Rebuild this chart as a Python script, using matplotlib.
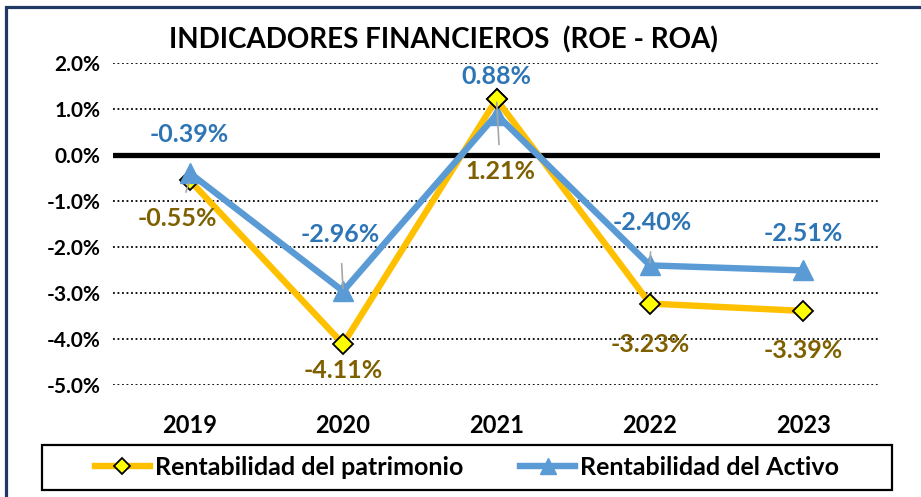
import matplotlib
matplotlib.use("Agg")
import matplotlib.pyplot as plt
from matplotlib.patches import Rectangle
from matplotlib.ticker import FuncFormatter

plt.rcParams['font.family'] = ['Lato', 'DejaVu Sans']
plt.rcParams['font.weight'] = 'bold'

# =========================
# DATA
# =========================
years = ["2019", "2020", "2021", "2022", "2023"]
roe = [-0.55, -4.11, 1.21, -3.23, -3.39]   # Rentabilidad del patrimonio (%)
roa = [-0.39, -2.96, 0.88, -2.40, -2.51]   # Rentabilidad del Activo (%)

# label offsets in pixels (dx, dy) and whether a leader line is drawn
roe_offsets = [(-12, -38), (0, -26), (4, -72), (0, -41), (0, -40)]
roe_leader = [True, False, True, False, False]
roa_offsets = [(0, 38), (-3, 57), (0, 38), (2, 43), (0, 37)]
roa_leader = [False, True, False, True, False]

yellow = "#FFC000"
blue = "#5B9BD5"
roe_txt = "#7F6000"
roa_txt = "#2E75B6"

fig = plt.figure(figsize=(9.21, 4.97), dpi=100)
ax = fig.add_axes([0.1227, 0.2254, 0.8328, 0.6478])

x = list(range(len(years)))

ax.plot(x, roe, color=yellow, lw=4.6, marker="D", ms=10,
        mfc="#FFFF00", mec="black", mew=1.3, zorder=3,
        label="Rentabilidad del patrimonio")
ax.plot(x, roa, color=blue, lw=4.6, marker="^", ms=14,
        mfc=blue, mec=blue, zorder=4,
        label="Rentabilidad del Activo")
# diamonds of 2021 sit above the blue line in the original
ax.plot(x[2:3], roe[2:3], ls="none", marker="D", ms=10,
        mfc="#FFFF00", mec="black", mew=1.3, zorder=4.5)

# data labels
for i, v in enumerate(roe):
    dx, dy = roe_offsets[i]
    ap = dict(arrowstyle="-", color="#A6A6A6", lw=1.2, shrinkA=9, shrinkB=2) if roe_leader[i] else None
    ax.annotate(f"{v:.2f}%", (i, v), xytext=(dx, dy), textcoords="offset pixels",
                ha="center", va="center", fontsize=18, fontweight="bold",
                color=roe_txt, arrowprops=ap, zorder=5)
for i, v in enumerate(roa):
    dx, dy = roa_offsets[i]
    ap = dict(arrowstyle="-", color="#A6A6A6", lw=1.2, shrinkA=11, shrinkB=2) if roa_leader[i] else None
    ax.annotate(f"{v:.2f}%", (i, v), xytext=(dx, dy), textcoords="offset pixels",
                ha="center", va="center", fontsize=18, fontweight="bold",
                color=roa_txt, arrowprops=ap, zorder=5)

# axes
ax.set_xlim(-0.5, 4.5)
ax.set_ylim(-5, 2)
ax.set_yticks(range(-5, 3))
ax.yaxis.set_major_formatter(FuncFormatter(lambda v, p: f"{v:.1f}%"))
ax.set_xticks(x)
ax.set_xticklabels(years)
ax.tick_params(axis="y", length=0, pad=9, labelsize=15)
ax.tick_params(axis="x", length=0, pad=21, labelsize=17)
for s in ax.spines.values():
    s.set_visible(False)
ax.grid(axis="y", color="black", linestyle=(0, (1, 1.5)), lw=1.3)
ax.axhline(0, color="black", lw=3.8, zorder=2)

fig.text(0.481, 0.92, "INDICADORES FINANCIEROS  (ROE - ROA)", ha="center",
         va="center", fontsize=20, fontweight="bold")

# legend with its own box
leg_box = Rectangle((0.0456, 0.014), 0.923, 0.0905, transform=fig.transFigure,
                    fill=False, ec="black", lw=1.6)
fig.patches.append(leg_box)
fig.legend(loc="center", bbox_to_anchor=(0.507, 0.059), ncol=2, frameon=False,
           fontsize=18, handlelength=2.2, handletextpad=0.2, columnspacing=2.3,
           markerscale=0.85)

# outer frame (cropped on right/bottom)
frame = Rectangle((0.0065, -0.1), 1.2, 1.086, transform=fig.transFigure,
                  fill=False, ec="#1F3864", lw=2.3)
fig.patches.append(frame)

fig.savefig("out.png", dpi=100)
